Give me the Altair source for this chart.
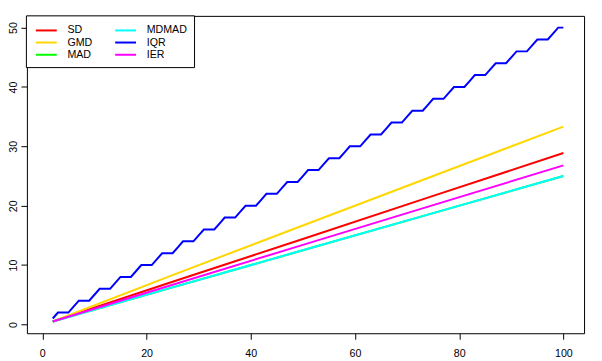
import altair as alt
import pandas as pd

# straight-line series (read at a few x positions)
x_lin = [2, 25, 50, 75, 100]
sd = [0.5, 7.2, 14.4, 21.65, 28.87]
gmd = [0.5, 8.32, 16.66, 25.0, 33.33]
mad = [0.5, 6.25, 12.5, 18.75, 25.0]
mdmad = [0.5, 6.25, 12.5, 18.75, 25.0]
ier = [0.5, 6.7, 13.4, 20.1, 26.8]

# staircase IQR series, n = 2..100
x_iqr = list(range(2, 101))
iqr = [1,
       2, 2, 2, 3, 4, 4, 4, 5, 6, 6, 6, 7, 8, 8, 8, 9,
       10, 10, 10, 11, 12, 12, 12, 13, 14, 14, 14, 15, 16, 16, 16, 17,
       18, 18, 18, 19, 20, 20, 20, 21, 22, 22, 22, 23, 24, 24, 24, 25,
       26, 26, 26, 27, 28, 28, 28, 29, 30, 30, 30, 31, 32, 32, 32, 33,
       34, 34, 34, 35, 36, 36, 36, 37, 38, 38, 38, 39, 40, 40, 40, 41,
       42, 42, 42, 43, 44, 44, 44, 45, 46, 46, 46, 47, 48, 48, 48, 49,
       50, 50]

series_names = ["SD", "GMD", "MAD", "MDMAD", "IQR", "IER"]
series_colors = ["#FF0000", "#FFD700", "#00FF00", "#00FFFF", "#0000FF", "#FF00FF"]
x_ticks = [0, 20, 40, 60, 80, 100]
y_ticks = [0, 10, 20, 30, 40, 50]

rows = []
for name, vals in [("SD", sd), ("GMD", gmd), ("MAD", mad), ("MDMAD", mdmad)]:
    for i, (xv, yv) in enumerate(zip(x_lin, vals)):
        rows.append({"series": name, "x": xv, "y": yv, "idx": i})
for i, (xv, yv) in enumerate(zip(x_iqr, iqr)):
    rows.append({"series": "IQR", "x": xv, "y": yv, "idx": i})
for i, (xv, yv) in enumerate(zip(x_lin, ier)):
    rows.append({"series": "IER", "x": xv, "y": yv, "idx": i})
df = pd.DataFrame(rows)

FONT = "Liberation Sans"
FS = 10.7

chart = alt.Chart(df).mark_line(strokeWidth=2, clip=True).encode(
    x=alt.X("x:Q", title=None,
            scale=alt.Scale(domain=[-2.96, 103.96], nice=False, zero=False),
            axis=alt.Axis(values=x_ticks, domain=False, grid=False, tickSize=6,
                          tickColor="black", labelColor="black", labelFont=FONT,
                          labelFontSize=FS, labelPadding=9, labelFlush=False)),
    y=alt.Y("y:Q", title=None,
            scale=alt.Scale(domain=[-1.48, 51.98], nice=False, zero=False),
            axis=alt.Axis(values=y_ticks, domain=False, grid=False, tickSize=6,
                          tickColor="black", labelColor="black", labelFont=FONT,
                          labelFontSize=FS, labelAngle=270, labelAlign="center",
                          labelBaseline="alphabetic", labelPadding=4, labelFlush=False)),
    color=alt.Color("series:N",
                    scale=alt.Scale(domain=series_names, range=series_colors),
                    legend=alt.Legend(title=" ", titleFontSize=1, titlePadding=1,
                                      orient="none", legendX=-1, legendY=-0.5,
                                      columns=2, columnPadding=18.7, rowPadding=1.3,
                                      gridAlign="each",
                                      symbolType="M-0.6,0H3.6", symbolSize=100,
                                      symbolStrokeWidth=2, labelOffset=22.7,
                                      labelFont=FONT, labelFontSize=FS,
                                      labelColor="black", padding=7,
                                      fillColor="white", strokeColor="black")),
    order="idx:Q",
).properties(
    width=560, height=319,
    autosize=alt.AutoSizeParams(type="none"),
    padding={"left": 19, "top": 7, "right": 10, "bottom": 30},
).configure_view(stroke="black", strokeWidth=1)

chart.save("out.html", embed_options={"renderer": "svg", "actions": False})
